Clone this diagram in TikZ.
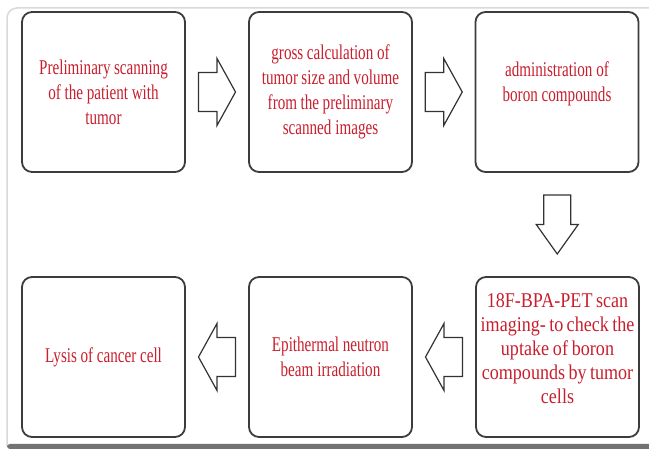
\documentclass[tikz,border=0pt]{standalone}
\usepackage{fontspec}
\setmainfont{Liberation Serif}
\newfontfamily\boxfont[FakeStretch=0.72]{Liberation Serif}
\newfontfamily\boxfontwide[FakeStretch=0.86]{Liberation Serif}
\usepackage{xcolor}
\usepackage{tikz}
\usetikzlibrary{calc}

\definecolor{steptext}{RGB}{200,30,45}
\definecolor{stepline}{RGB}{60,60,60}

\tikzset{
    stepbox/.style={draw=stepline, line width=1.8pt, rounded corners=10pt, minimum width=163pt, minimum height=160pt, inner sep=0pt, text width=160pt, align=center, text=steptext, font=\boxfont\fontsize{21pt}{25pt}\selectfont, execute at begin node={\spaceskip=0.15em plus 0.05em\relax}},
    blockline/.style={draw=black!80, line width=1.2pt, fill=white, line join=miter},
    pics/blockright/.style={code={
        \draw[blockline] (-18.5,-19.5) -- (0,-19.5) -- (0,-33.5) -- (18.5,0) -- (0,33.5) -- (0,19.5) -- (-18.5,19.5) -- cycle;
    }},
    pics/blockdown/.style={code={
        \draw[blockline] (-13.5,-29.5) -- (13.5,-29.5) -- (13.5,0) -- (21,0) -- (0,29.5) -- (-21,0) -- (-13.5,0) -- cycle;
    }}
}

\begin{document}
\begin{tikzpicture}[x=1pt, y=-1pt]
    \useasboundingbox (0,0) rectangle (649,449);

    % Frame
    \draw[black!15, line width=1.5pt, rounded corners=10pt] (7,446) -- (7,8) -- (652,8);
    \fill[black!55, rounded corners=3pt] (7,444) rectangle (655,449);

    % Steps, top row
    \node[stepbox] (prelim) at (103.5,92) {Preliminary scanning\\ of the patient with\\ tumor};
    \node[stepbox] (gross) at (330.5,92) {gross calculation of\\ tumor size and volume\\ from the preliminary\\ scanned images};
    \node[stepbox] (boron) at (557,92) {administration of\\ boron compounds\\[-4pt] \mbox{}};

    % Steps, bottom row
    \node[stepbox, text width=173pt, inner xsep=-5pt, font=\boxfontwide\fontsize{21pt}{24pt}\selectfont] (petscan) at (557.5,357) {18F-BPA-PET scan\\ imaging- to check the\\ uptake of boron\\ compounds by tumor\\ cells\\[-8pt] \mbox{}};
    \node[stepbox] (neutron) at (330.5,357) {Epithermal neutron\\ beam irradiation};
    \node[stepbox] (lysis) at (103.5,357) {Lysis of cancer cell};

    % Block arrows
    \pic at ($(prelim.east)!0.5!(gross.west)$) {blockright};
    \pic at ($(gross.east)!0.5!(boron.west)$) {blockright};
    \pic at ($(boron.south)!0.5!(petscan.north)$) {blockdown};
    \pic[rotate=180] at ($(petscan.west)!0.5!(neutron.east)$) {blockright};
    \pic[rotate=180] at ($(neutron.west)!0.5!(lysis.east)$) {blockright};
\end{tikzpicture}
\end{document}
